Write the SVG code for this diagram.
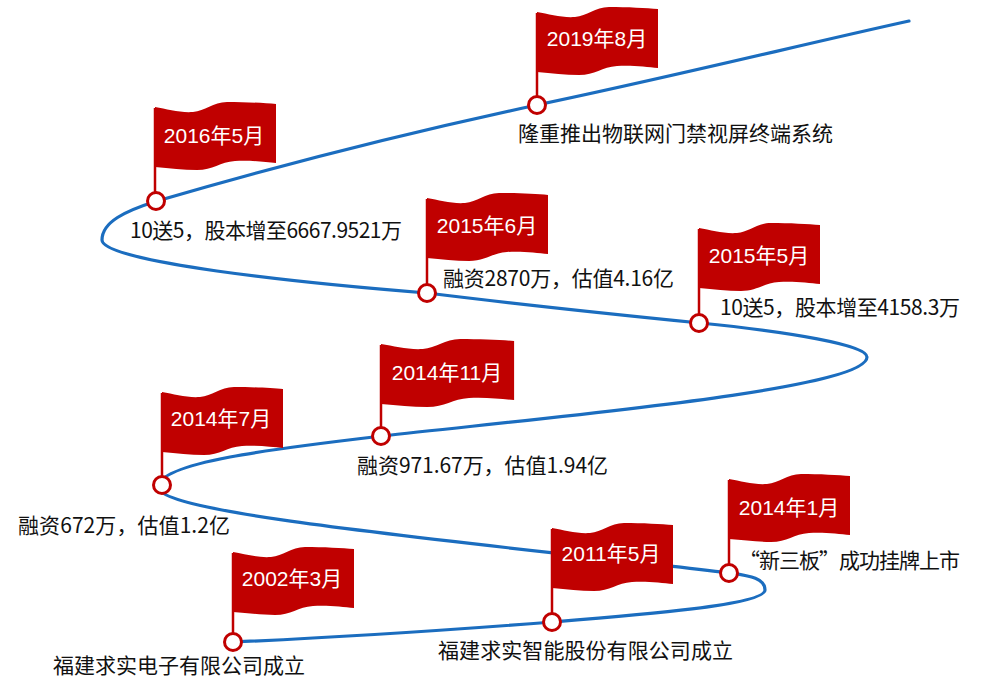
<svg xmlns="http://www.w3.org/2000/svg" xmlns:xlink="http://www.w3.org/1999/xlink" width="998" height="678" viewBox="0 0 998 678">
<style>
.curve{fill:none;stroke:#1b6dbf;stroke-width:3.2;stroke-linecap:round}
.flag{fill:#c00000}
.pole{stroke:#c00000;stroke-width:2.5}
.dot{fill:#fff;stroke:#c00000;stroke-width:3}
.lbl{font-family:"Liberation Sans","Noto Sans CJK SC",sans-serif;font-size:21px;fill:#fff;text-anchor:middle}
.desc{font-family:"Noto Sans CJK SC",sans-serif;font-size:21px;fill:#111}
</style>
<defs>
<path id="flagShape" d="M0,0 C12,2 25,6 38,5 C50,4 58,-5 72,-5 C90,-5 110,-4 121,-3 L121,56 C110,55 95,53 80,54 C65,55 58,63 42,63 C28,63 15,61 0,60 Z"/>
</defs>
<rect width="998" height="678" fill="#fff"/>
<g id="connectors">
<path class="curve" d="M233,642 C350,637 450,630 553,622 C640,615 765,605 765,590 C765,578 750,576 730,573 C480,543 158,515 158,487 C158,462 280,448 382,436 C540,418 867,390 867,357 C867,345 790,332 700,323 C610,314 500,302 427,293 C300,283 102,262 102,240 C102,222 125,211 157,201 C280,165 420,130 537,105 C680,75 800,45 909,21"/>
</g>
<g id="n2002">
<use xlink:href="#flagShape" class="flag" transform="translate(233,552)"/>
<line class="pole" x1="233" y1="553" x2="233" y2="633"/>
<circle class="dot" cx="233" cy="642" r="8.5"/>
<text class="lbl" x="292" y="586">2002年3月</text>
<text class="desc" x="53" y="673" textLength="252">福建求实电子有限公司成立</text>
</g>
<g id="n2011">
<use xlink:href="#flagShape" class="flag" transform="translate(552,528)"/>
<line class="pole" x1="552" y1="529" x2="552" y2="613"/>
<circle class="dot" cx="552" cy="622" r="8.5"/>
<text class="lbl" x="611" y="561">2011年5月</text>
<text class="desc" x="438" y="658" textLength="295">福建求实智能股份有限公司成立</text>
</g>
<g id="n2014-1">
<use xlink:href="#flagShape" class="flag" transform="translate(729,479)"/>
<line class="pole" x1="729" y1="480" x2="729" y2="564"/>
<circle class="dot" cx="729" cy="573" r="8.5"/>
<text class="lbl" x="789" y="515">2014年1月</text>
<text class="desc" x="739" y="568" textLength="221">“新三板”成功挂牌上市</text>
</g>
<g id="n2014-7">
<use xlink:href="#flagShape" class="flag" transform="translate(162,392)"/>
<line class="pole" x1="162" y1="393" x2="162" y2="476"/>
<circle class="dot" cx="162" cy="485" r="8.5"/>
<text class="lbl" x="221" y="426">2014年7月</text>
<text class="desc" x="18" y="533" textLength="212">融资672万，估值1.2亿</text>
</g>
<g id="n2014-11">
<use xlink:href="#flagShape" class="flag" transform="translate(381,344) scale(1.1,1)"/>
<line class="pole" x1="381" y1="345" x2="381" y2="427"/>
<circle class="dot" cx="381" cy="436" r="8.5"/>
<text class="lbl" x="447" y="380">2014年11月</text>
<text class="desc" x="357" y="473" textLength="251">融资971.67万，估值1.94亿</text>
</g>
<g id="n2015-5">
<use xlink:href="#flagShape" class="flag" transform="translate(699,228)"/>
<line class="pole" x1="699" y1="229" x2="699" y2="314"/>
<circle class="dot" cx="699" cy="323" r="8.5"/>
<text class="lbl" x="759" y="263">2015年5月</text>
<text class="desc" x="720" y="315" textLength="240">10送5，股本增至4158.3万</text>
</g>
<g id="n2015-6">
<use xlink:href="#flagShape" class="flag" transform="translate(427,198)"/>
<line class="pole" x1="427" y1="199" x2="427" y2="284"/>
<circle class="dot" cx="427" cy="293" r="8.5"/>
<text class="lbl" x="487" y="233">2015年6月</text>
<text class="desc" x="443" y="286" textLength="231">融资2870万，估值4.16亿</text>
</g>
<g id="n2016-5">
<use xlink:href="#flagShape" class="flag" transform="translate(155,107)"/>
<line class="pole" x1="155" y1="108" x2="155" y2="192"/>
<circle class="dot" cx="156" cy="201" r="8.5"/>
<text class="lbl" x="214" y="143">2016年5月</text>
<text class="desc" x="130" y="238" textLength="272">10送5，股本增至6667.9521万</text>
</g>
<g id="n2019-8">
<use xlink:href="#flagShape" class="flag" transform="translate(537,12)"/>
<line class="pole" x1="537" y1="13" x2="537" y2="96"/>
<circle class="dot" cx="537" cy="105" r="8.5"/>
<text class="lbl" x="597" y="46">2019年8月</text>
<text class="desc" x="518" y="141" textLength="315">隆重推出物联网门禁视屏终端系统</text>
</g>
</svg>
